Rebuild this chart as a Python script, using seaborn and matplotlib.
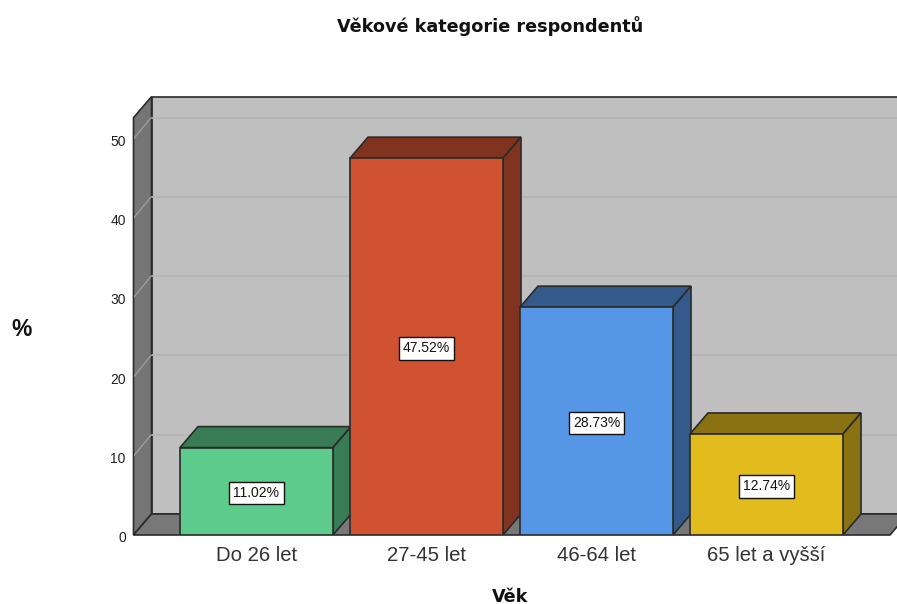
import matplotlib
matplotlib.use("Agg")
import matplotlib.pyplot as plt
from matplotlib.patches import Polygon
from matplotlib.transforms import ScaledTranslation
import seaborn as sns

TITLE = "Věkové kategorie respondentů"
X_LABEL = "Věk"
Y_LABEL = "%"
categories = ["Do 26 let", "27-45 let", "46-64 let", "65 let a vyšší"]
percent = [11.02, 47.52, 28.73, 12.74]
front_colors = ["#5CCB8B", "#D15230", "#5596E6", "#E2BB1C"]
shade_colors = ["#377C55", "#80331F", "#345A8C", "#8A7212"]
y_ticks = [0, 10, 20, 30, 40, 50]

W, H = 897, 604
sns.set_theme(style="white")
plt.rcParams["font.family"] = ["Liberation Sans", "DejaVu Sans"]

fig = plt.figure(figsize=(W / 100, H / 100), dpi=100, facecolor="white")
# plot frame in pixels
L, R, T, B = 133.5, 908.0, 96.7, 535.0
ax = fig.add_axes([L / W, 1 - B / H, (R - L) / W, (B - T) / H])
px_per_cat = 170.0
px_per_unit = 7.93
cx0 = 256.5
x0 = (L - cx0) / px_per_cat
x1 = (R - cx0) / px_per_cat
ytop = (B - T) / px_per_unit
dx = 18.0 / px_per_cat
dy = 21.0 / px_per_unit

edge = "#2A2A2A"
sns.barplot(x=categories, y=percent, hue=categories, palette=front_colors,
            saturation=1, width=0.9, dodge=False, legend=False, ax=ax,
            edgecolor=edge, linewidth=1.2)
ax.set_xlim(x0, x1)
ax.set_ylim(0, ytop)
ax.set_xlabel("")
ax.set_ylabel("")
for s in ax.spines.values():
    s.set_visible(False)

wall = "#BFBFBF"
side = "#757575"
# back wall, left wall and floor
ax.add_patch(Polygon([(x0 + dx, dy), (x1, dy), (x1, ytop), (x0 + dx, ytop)],
                     fc=wall, ec=edge, lw=1.2, zorder=0.5, clip_on=False))
ax.add_patch(Polygon([(x0, 0), (x0 + dx, dy), (x0 + dx, ytop), (x0, ytop - dy)],
                     fc=side, ec=edge, lw=1.2, zorder=0.6, clip_on=False))
ax.add_patch(Polygon([(x0, 0), (x0 + dx, dy), (x1, dy), (x1 - dx, 0)],
                     fc="#787878", ec=edge, lw=1.2, zorder=0.6, clip_on=False))
for t in y_ticks[1:]:
    ax.plot([x0 + dx, x1], [t + dy, t + dy], color="#B5B5B5", lw=1.3, zorder=0.7)
    ax.plot([x0 + 0.002, x0 + dx - 0.002], [t, t + dy], color="#9C9C9C", lw=1.0, zorder=0.7)

# depth faces and value boxes, derived from the bars
for i, bar in enumerate(ax.patches[:len(percent)]):
    xl, w, h = bar.get_x(), bar.get_width(), bar.get_height()
    bar.set_zorder(3 + i + 0.5)
    ax.add_patch(Polygon([(xl, h), (xl + dx, h + dy), (xl + w + dx, h + dy), (xl + w, h)],
                         fc=shade_colors[i], ec=edge, lw=1.2, zorder=3 + i))
    ax.add_patch(Polygon([(xl + w, 0), (xl + w + dx, dy), (xl + w + dx, h + dy), (xl + w, h)],
                         fc=shade_colors[i], ec=edge, lw=1.2, zorder=3 + i))
    ax.text(xl + w / 2, h / 2 - 0.05, f"{percent[i]:.2f}%", ha="center", va="center_baseline",
            fontsize=10, color="#111111", zorder=20,
            bbox=dict(boxstyle="square,pad=0.3", fc="white", ec="#111111", lw=1.0))

ax.set_yticks(y_ticks)
ax.set_xticks(range(len(categories)))
ax.set_xticklabels(categories)
ax.tick_params(axis="y", length=0, pad=5.5, labelsize=10, labelcolor="#222222")
ax.tick_params(axis="x", length=0, pad=8, labelsize=14.6, labelcolor="#333333")
shift = ScaledTranslation(0, -1.8 / 100, fig.dpi_scale_trans)
for lab in ax.get_yticklabels():
    lab.set_transform(lab.get_transform() + shift)

fig.text(490.5 / W, 1 - 26.5 / H, TITLE, ha="center", va="center",
         fontsize=12.7, fontweight="bold", color="#111111", family="DejaVu Sans")
fig.text(510.5 / W, 1 - 596.5 / H, X_LABEL, ha="center", va="center",
         fontsize=12.7, fontweight="bold", color="#111111", family="DejaVu Sans")
fig.text(21.5 / W, 1 - 330 / H, Y_LABEL, ha="center", va="center",
         fontsize=16.5, fontweight="bold", color="#111111")

fig.savefig("out.png", dpi=100)
